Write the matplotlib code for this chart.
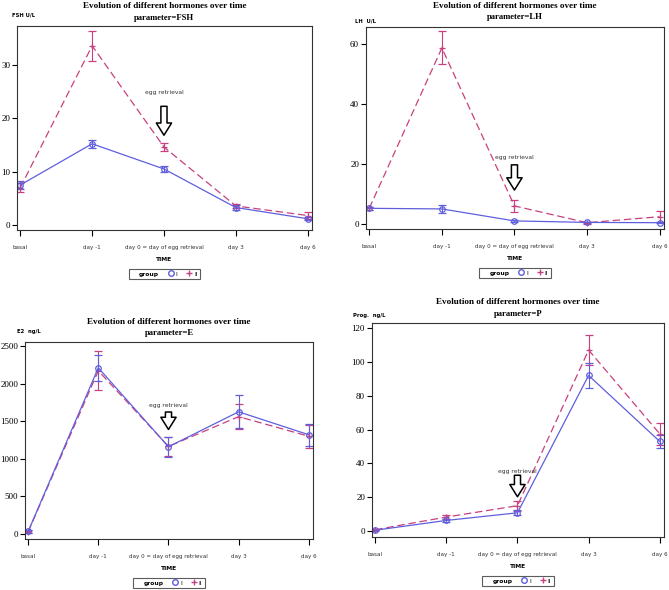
import matplotlib.pyplot as plt
from matplotlib.lines import Line2D

# Time points (x categories)
times = ['basal', 'day -1', 'day 0 = day of egg retrieval', 'day 3', 'day 6']

# FSH (U/L)
fsh_I = [7.5, 15.2, 10.5, 3.3, 1.2]
fsh_I_err = [0.7, 0.8, 0.6, 0.4, 0.3]
fsh_II = [7.0, 33.5, 14.6, 3.6, 1.8]
fsh_II_err = [0.8, 2.8, 0.8, 0.3, 0.6]

# LH (U/L)
lh_I = [5.2, 5.0, 1.0, 0.5, 0.4]
lh_I_err = [0.5, 1.2, 0.3, 0.2, 0.2]
lh_II = [5.2, 58.7, 6.0, 0.4, 2.4]
lh_II_err = [0.5, 5.5, 2.0, 0.3, 1.8]

# E2 (ng/L)
e_I = [35, 2210, 1160, 1625, 1320]
e_I_err = [15, 170, 130, 220, 145]
e_II = [30, 2170, 1165, 1560, 1300]
e_II_err = [15, 260, 125, 165, 150]

# Progesterone (ng/L)
p_I = [0.5, 6.3, 10.8, 92, 53]
p_I_err = [0.3, 1.0, 1.5, 7.5, 4.0]
p_II = [0.8, 8.3, 15.0, 107, 57.5]
p_II_err = [0.3, 1.0, 3.0, 9.0, 6.5]

blue = '#5f5fdc'
red = '#c8407f'
W, H = 669, 590

plt.rcParams['font.family'] = ['Liberation Serif', 'DejaVu Serif']
fig = plt.figure(figsize=(W / 100, H / 100), dpi=100)


def add_panel(box, param, ylab, yI, eI, yII, eII, ylim, yticks, arrow, title_y, lab_xy):
    # box in pixels: left, top, right, bottom
    l, t, r, b = box
    ax = fig.add_axes([l / W, 1 - b / H, (r - l) / W, (b - t) / H])
    x = list(range(len(times)))
    ax.errorbar(x, yII, yerr=eII, color=red, ls=(0, (6, 3)), lw=0.9,
                marker='+', ms=5, mew=0.9, capsize=3, elinewidth=0.8)
    ax.errorbar(x, yI, yerr=eI, color=blue, ls='-', lw=0.9,
                marker='o', ms=4, mfc='none', mew=0.9, capsize=3, elinewidth=0.8)
    ax.set_xlim(-0.045, 4.06)
    ax.set_ylim(*ylim)
    ax.set_yticks(yticks)
    ax.set_xticks(x)
    ax.set_xticklabels(times, fontsize=4.1, family='DejaVu Sans', color='#333333')
    ax.tick_params(axis='x', length=4, width=0.8, pad=7)
    ax.tick_params(axis='y', length=3.5, width=0.8, labelsize=6.5, pad=1.5)
    for s in ax.spines.values():
        s.set_linewidth(0.8)
        s.set_color('#333333')
    ax.set_xlabel('TIME', fontsize=4.3, family='DejaVu Sans', fontweight='bold', labelpad=5)

    # egg retrieval annotation
    txt_y, a_top, a_tip = arrow
    ax.text(2, txt_y, 'egg retrieval', fontsize=4.3, family='DejaVu Sans',
            ha='center', va='center', color='#333333')
    ax.annotate('', xy=(2, a_tip), xytext=(2, a_top),
                arrowprops=dict(arrowstyle='simple,head_width=1.0,head_length=0.8,tail_width=0.4',
                                fc='white', ec='black', lw=1.1, shrinkA=0, shrinkB=0,
                                mutation_scale=11))

    # legend, placed a fixed number of pixels under the axes
    handles = [Line2D([], [], ls='none', label='group'),
               Line2D([], [], ls='none', marker='o', mfc='none', mec=blue, ms=4, label='I'),
               Line2D([], [], ls='none', marker='+', mec=red, ms=5, label='II')]
    leg = ax.legend(handles=handles, ncol=3, loc='upper center',
                    bbox_to_anchor=((l + r) / 2 / W, 1 - (b + 36) / H),
                    bbox_transform=fig.transFigure,
                    prop={'family': 'DejaVu Sans', 'size': 4.3},
                    frameon=True, fancybox=False, edgecolor='#333333',
                    handlelength=1.0, handletextpad=0.3, columnspacing=1.5,
                    borderpad=0.4)
    leg.get_frame().set_linewidth(0.8)
    leg.get_texts()[0].set_fontweight('bold')

    cx = (l + r) / 2
    fig.text(cx / W, 1 - title_y[0] / H, 'Evolution of different hormones over time',
             ha='center', va='center', fontsize=6.6, fontweight='bold')
    fig.text(cx / W, 1 - title_y[1] / H, 'parameter=' + param,
             ha='center', va='center', fontsize=6.2, fontweight='bold')
    fig.text(lab_xy[0] / W, 1 - lab_xy[1] / H, ylab, ha='left', va='center',
             fontsize=3.8, family='DejaVu Sans', fontweight='bold')
    return ax


add_panel((17, 26, 312, 230), 'FSH', 'FSH U/L', fsh_I, fsh_I_err, fsh_II, fsh_II_err,
          (-0.9, 37.2), [0, 10, 20, 30], (24.7, 22.2, 16.8), (6, 18), (12, 15))
add_panel((366, 27, 664, 229), 'LH', 'LH  U/L', lh_I, lh_I_err, lh_II, lh_II_err,
          (-1.7, 65.7), [0, 20, 40, 60], (22, 19.7, 11.3), (6, 17), (355, 21))
add_panel((25, 342, 313, 539), 'E', 'E2  ng/L', e_I, e_I_err, e_II, e_II_err,
          (-66, 2553), [0, 500, 1000, 1500, 2000, 2500], (1715, 1622, 1390), (322, 333), (17, 332))
add_panel((372, 323, 664, 537), 'P', 'Prog.  ng/L', p_I, p_I_err, p_II, p_II_err,
          (-3.5, 123), [0, 20, 40, 60, 80, 100, 120], (35.5, 33, 20.3), (302, 314), (353, 315))

fig.savefig('out.png', dpi=100)
